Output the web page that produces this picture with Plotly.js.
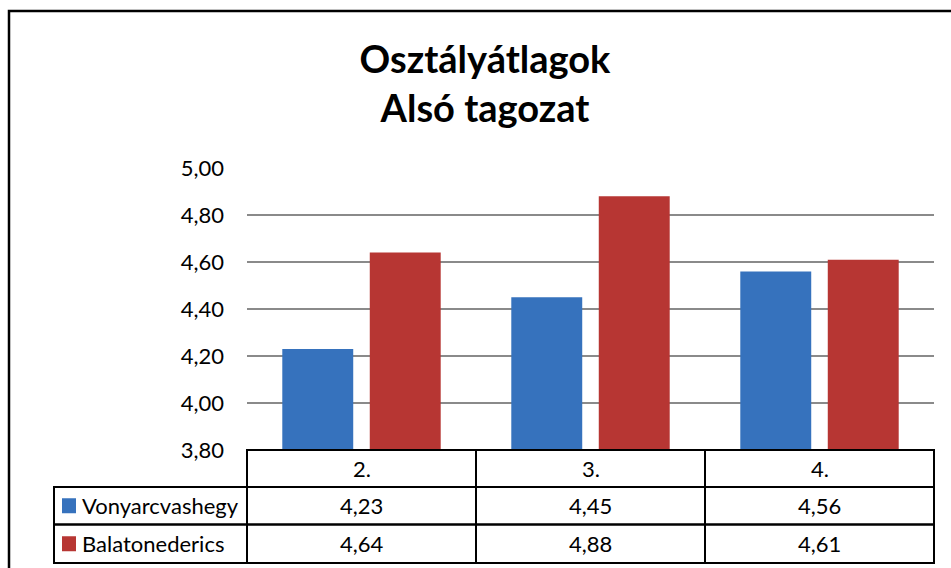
<!DOCTYPE html>
<html>
<head>
<meta charset="utf-8">
<script src="https://cdn.plot.ly/plotly-3.0.1.min.js"></script>
<style>
html,body{margin:0;padding:0;background:#fff;}
#chart{width:951px;height:568px;}
</style>
</head>
<body>
<div id="chart"></div>
<script>
// ---- data ----
var categories = ['2.', '3.', '4.'];
var seriesNames = ['Vonyarcvashegy', 'Balatonederics'];
var vonyarcvashegy = [4.23, 4.45, 4.56];
var balatonederics = [4.64, 4.88, 4.61];
var tickValues = [3.80, 4.00, 4.20, 4.40, 4.60, 4.80, 5.00];
var titleText = 'Osztályátlagok<br>Alsó tagozat';

// ---- layout helpers (pixels) ----
var W = 951, H = 568;
var L = 247, R = 934, T = 168, B = 450;
function px(x){ return (x - L) / (R - L); }
function py(y){ return (B - y) / (B - T); }

var colors = ['#3672bd', '#b73633'];
var seriesValues = [vonyarcvashegy, balatonederics];
var FONT = 'Lato, "Open Sans", sans-serif';

var traces = seriesValues.map(function(vals, i){
  return {
    type: 'bar',
    name: seriesNames[i],
    x: categories,
    y: vals.map(function(v){ return v - tickValues[0]; }),
    base: tickValues[0],
    marker: {color: colors[i], line: {width: 0}},
    hoverinfo: 'skip',
    showlegend: false
  };
});

// table geometry (pixels)
var rowTop = [450, 487, 524.5];
var rowBot = [487, 524.5, 563];
var legLeft = 54;
var lineStyle = {color: '#000', width: 2};

var shapes = [];
// outer chart border (extends past right/bottom edges)
shapes.push({type:'rect', xref:'paper', yref:'paper', x0:px(9), x1:px(W+20), y0:py(11), y1:py(H+20), line:{color:'#000', width:2.5}, fillcolor:'rgba(0,0,0,0)', layer:'below'});
// header row box
shapes.push({type:'rect', xref:'paper', yref:'paper', x0:0, x1:1, y0:py(rowTop[0]), y1:py(rowBot[0]), line:lineStyle});
// series rows, full width including legend column
for (var r = 1; r < 3; r++) {
  shapes.push({type:'rect', xref:'paper', yref:'paper', x0:px(legLeft), x1:1, y0:py(rowTop[r]), y1:py(rowBot[r]), line:lineStyle});
}
// column separators
for (var c = 0; c < categories.length - 1; c++) {
  shapes.push({type:'line', xref:'x', yref:'paper', x0:c + 0.5, x1:c + 0.5, y0:py(rowTop[0]), y1:py(rowBot[2]), line:lineStyle});
}
shapes.push({type:'line', xref:'paper', yref:'paper', x0:0, x1:0, y0:py(rowTop[0]), y1:py(rowBot[2]), line:lineStyle});

var annotations = [];
var txtFont = {family: FONT, size: 22, color: '#000'};
categories.forEach(function(cat, i){
  annotations.push({xref:'x', yref:'paper', x:i, y:py((rowTop[0]+rowBot[0])/2), text:cat, showarrow:false, font:txtFont, xanchor:'center', yanchor:'middle'});
  seriesValues.forEach(function(vals, s){
    annotations.push({xref:'x', yref:'paper', x:i, y:py((rowTop[s+1]+rowBot[s+1])/2), text:vals[i].toFixed(2).replace('.', ','), showarrow:false, font:txtFont, xanchor:'center', yanchor:'middle'});
  });
});
seriesNames.forEach(function(name, s){
  var yc = (rowTop[s+1]+rowBot[s+1])/2;
  shapes.push({type:'rect', xref:'paper', yref:'paper', x0:px(62), x1:px(76), y0:py(yc-7.5), y1:py(yc+7.5), line:{width:0}, fillcolor:colors[s]});
  annotations.push({xref:'paper', yref:'paper', x:px(80), y:py(yc), text:name, showarrow:false, font:txtFont, xanchor:'left', yanchor:'middle'});
});

var layout = {
  width: W, height: H,
  margin: {l: L, r: W - R, t: T, b: H - B, pad: 0},
  paper_bgcolor: '#fff', plot_bgcolor: '#fff',
  separators: ', ',
  title: {
    text: titleText,
    font: {family: FONT, size: 38, color: '#000', weight: 'bold'},
    x: 485 / W, xref: 'container', xanchor: 'center',
    y: 1 - 73 / H, yref: 'container', yanchor: 'top'
  },
  barmode: 'group',
  bargap: 0.236,
  bargroupgap: 0.189,
  xaxis: {
    type: 'category', range: [-0.5, 2.5],
    showticklabels: false, showgrid: false, zeroline: false, showline: false, ticks: ''
  },
  yaxis: {
    range: [tickValues[0], tickValues[tickValues.length-1]],
    tickvals: tickValues, tickformat: '.2f',
    tickfont: {family: FONT, size: 22, color: '#000'},
    ticklabelstandoff: 22,
    showgrid: true, gridcolor: '#8a8a8a', gridwidth: 1.5,
    zeroline: false, showline: false, ticks: ''
  },
  shapes: shapes,
  annotations: annotations,
  showlegend: false
};

Plotly.newPlot('chart', traces, layout, {displayModeBar: false, staticPlot: true});
</script>
</body>
</html>
